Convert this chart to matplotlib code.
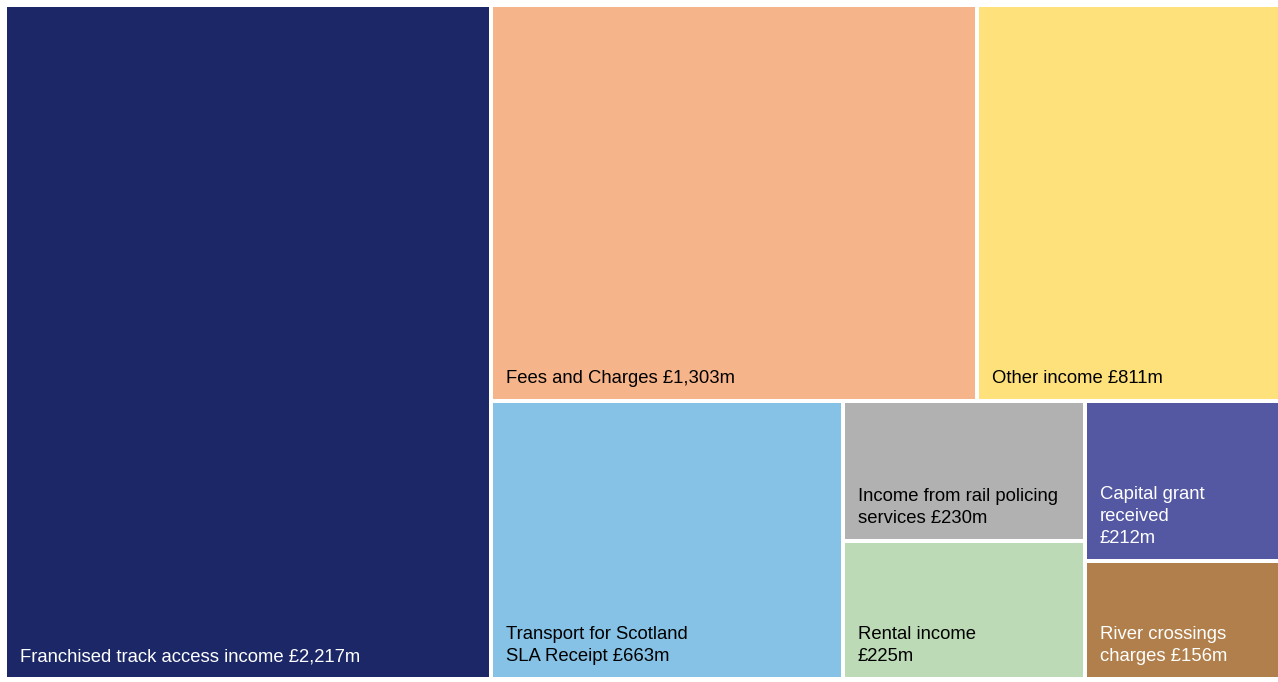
import matplotlib.pyplot as plt
from matplotlib.patches import Rectangle

plt.rcParams['font.family'] = ['Liberation Sans', 'DejaVu Sans']

# income items (£m)
labels = ["Franchised track access income £2,217m",
          "Fees and Charges £1,303m",
          "Other income £811m",
          "Transport for Scotland\nSLA Receipt £663m",
          "Income from rail policing\nservices £230m",
          "Rental income\n£225m",
          "Capital grant\nreceived\n£212m",
          "River crossings\ncharges £156m"]
values = [2217, 1303, 811, 663, 230, 225, 212, 156]
colors = ["#1b2766", "#f6b48a", "#fee17a", "#85c2e6",
          "#b1b1b1", "#bcdab5", "#5458a3", "#b07f4b"]
text_colors = ["white", "black", "black", "black",
               "black", "black", "white", "white"]

# grouping of tiles (indices into the lists above)
tree = [0, [[1, 2], [3, [4, 5], [6, 7]]]]


def total(node):
    if isinstance(node, list):
        return sum(total(n) for n in node)
    return values[node]


def layout(node, x, y, w, h, depth, out):
    if not isinstance(node, list):
        out[node] = (x, y, w, h)
        return
    s = total(node)
    pos = 0.0
    for child in node:
        f = total(child) / s
        if depth % 2 == 0:
            layout(child, x + pos * w, y, f * w, h, depth + 1, out)
        else:
            layout(child, x, y + pos * h, w, f * h, depth + 1, out)
        pos += f


rects = {}
layout(tree, 5, 5, 1275, 674, 0, rects)

fig = plt.figure(figsize=(12.78, 6.82), dpi=100)
ax = fig.add_axes([0, 0, 1, 1])
ax.set_xlim(0, 1278)
ax.set_ylim(682, 0)
ax.axis('off')

gap = 2
for i in range(len(values)):
    x, y, w, h = rects[i]
    ax.add_patch(Rectangle((x + gap, y + gap), w - 2 * gap, h - 2 * gap,
                           facecolor=colors[i], edgecolor='none'))
    ax.text(x + gap + 13, y + h - gap - 12, labels[i], color=text_colors[i],
            fontsize=13.3, ha='left', va='bottom', linespacing=1.38)

fig.savefig("out.png", dpi=100)
